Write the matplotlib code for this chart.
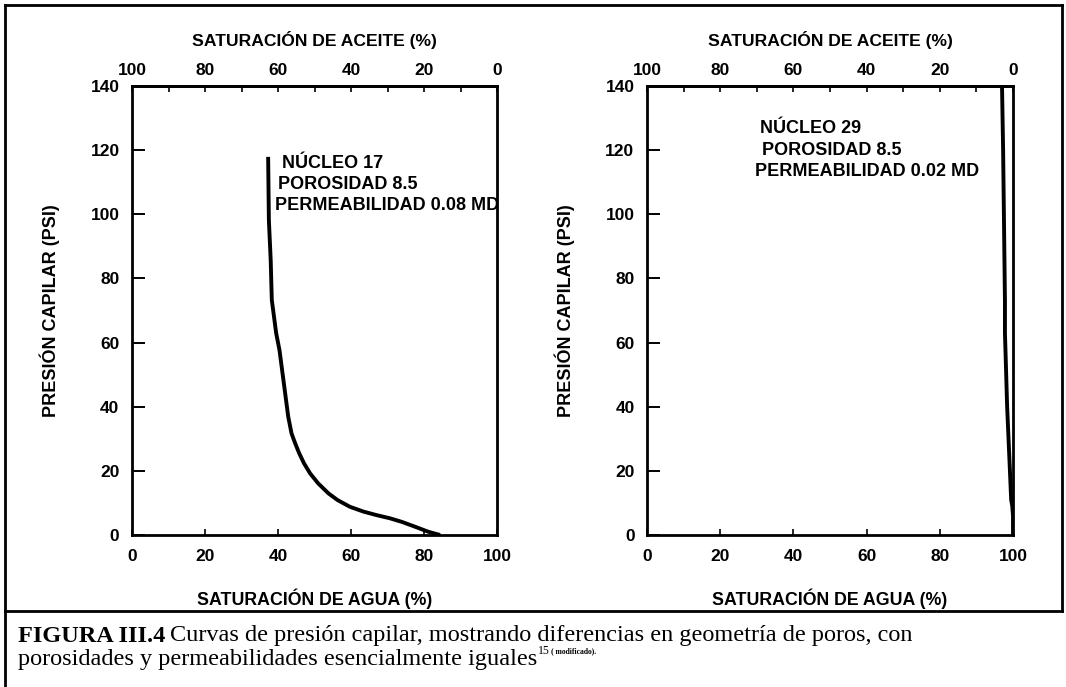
import matplotlib
matplotlib.use("Agg")
import matplotlib.pyplot as plt
from matplotlib.lines import Line2D
from matplotlib.ticker import MultipleLocator

# === Data ===
sw_17 = [37.3, 37.5, 38.0, 38.3, 38.9, 39.5, 40.4, 41.0, 41.6, 42.2, 42.8, 43.7, 44.7,
         45.8, 47.1, 48.8, 51.0, 53.8, 56.3, 59.7, 63.4, 67.0, 70.7, 73.9, 77.5, 81.2, 84.4]
pc_17 = [117.9, 98.2, 85.7, 73.3, 68.1, 62.9, 57.7, 52.5, 47.3, 42.1, 36.9, 31.7, 28.6,
         25.5, 22.4, 19.2, 16.1, 13.0, 10.9, 8.8, 7.3, 6.2, 5.2, 4.1, 2.6, 1.0, 0]

sw_29 = [97.0, 97.3, 97.8, 97.8, 98.4, 99.2, 99.5, 99.8, 100, 100]
pc_29 = [140, 120, 73, 63, 40, 19, 11, 9, 6, 0]

x_ticks = [0, 20, 40, 60, 80, 100]
y_ticks = [0, 20, 40, 60, 80, 100, 120, 140]

notes_17 = ["NÚCLEO 17", "POROSIDAD 8.5", "PERMEABILIDAD 0.08 MD"]
notes_29 = ["NÚCLEO 29", "POROSIDAD 8.5", "PERMEABILIDAD 0.02 MD"]

W, H = 1066, 687
sans = ['Liberation Sans', 'DejaVu Sans']
serif = ['Liberation Serif', 'DejaVu Serif']
plt.rcParams['font.family'] = sans

fig = plt.figure(figsize=(W / 100, H / 100), dpi=100)


def px_box(x0, x1, y0, y1):
    return [x0 / W, 1 - y1 / H, (x1 - x0) / W, (y1 - y0) / H]


def panel(box, sw, pc, notes, note_pos):
    ax = fig.add_axes(box)
    ax.plot(sw, pc, color='black', lw=2.8, solid_capstyle='butt',
            solid_joinstyle='round')
    ax.set_xlim(0, 100)
    ax.set_ylim(0, 140)
    for s in ax.spines.values():
        s.set_linewidth(2)
    ax.set_xticks(x_ticks)
    ax.set_yticks(y_ticks)
    ax.tick_params(axis='x', direction='in', length=4, width=1.2, pad=10,
                   labelsize=12.5)
    ax.tick_params(axis='y', direction='in', length=9, width=1.4, pad=9,
                   labelsize=12.5)
    for lab in ax.get_xticklabels() + ax.get_yticklabels():
        lab.set_fontweight('bold')
    ax.set_xlabel("SATURACIÓN DE AGUA (%)", fontsize=12.8, fontweight='bold',
                  labelpad=18)
    ax.set_ylabel("PRESIÓN CAPILAR (PSI)", fontsize=13, fontweight='bold',
                  labelpad=22)

    top = ax.secondary_xaxis('top', functions=(lambda v: 100 - v, lambda v: 100 - v))
    top.set_xticks(x_ticks)
    top.xaxis.set_minor_locator(MultipleLocator(10))
    top.tick_params(axis='x', which='both', direction='in', length=4, width=1.2,
                    pad=6, labelsize=12.5)
    for lab in top.get_xticklabels():
        lab.set_fontweight('bold')
    top.set_xlabel("SATURACIÓN DE ACEITE (%)", fontsize=12.6, fontweight='bold',
                   labelpad=12)
    top.spines['top'].set_linewidth(2)

    x0, y0 = note_pos
    for i, t in enumerate(notes):
        ax.text(x0[i], y0 - i * 6.6, t, fontsize=13, fontweight='bold',
                va='center', ha='left', clip_on=False)
    return ax


panel(px_box(132, 497, 86, 535), sw_17, pc_17, notes_17,
      ([41.0, 40.0, 39.3], 115.8))
panel(px_box(647, 1013, 86, 535), sw_29, pc_29, notes_29,
      ([30.9, 31.5, 29.5], 126.6))


# outer frame and caption divider
def fline(xs, ys, lw=2):
    fig.add_artist(Line2D([x / W for x in xs], [1 - y / H for y in ys],
                          color='black', lw=lw, transform=fig.transFigure))


fline([5, 1062], [5, 5])
fline([5, 5], [5, 687])
fline([1062, 1062], [5, 611])
fline([5, 1062], [611, 611])

# caption
cap_size = 17.5
t1 = fig.text(18 / W, 1 - 636 / H, "FIGURA III.4", fontsize=cap_size, fontweight='bold',
              family=serif, va='center', ha='left')
fig.canvas.draw()
r = fig.canvas.get_renderer()
bb = t1.get_window_extent(r)
fig.text((bb.x1 + 5) / W, 1 - 636 / H,
         "Curvas de presión capilar, mostrando diferencias en geometría de poros, con",
         fontsize=cap_size, family=serif, va='center', ha='left')
t3 = fig.text(18 / W, 1 - 660 / H, "porosidades y permeabilidades esencialmente iguales",
              fontsize=cap_size, family=serif, va='center', ha='left')
fig.canvas.draw()
bb3 = t3.get_window_extent(r)
fig.text((bb3.x1 + 1) / W, 1 - 651 / H, "15", fontsize=8.5, family=serif,
         va='center', ha='left')
fig.text((bb3.x1 + 14) / W, 1 - 651 / H, "( modificado).", fontsize=5.5,
         fontweight='bold', family=serif, va='center', ha='left')

fig.savefig("out.png", dpi=100)
